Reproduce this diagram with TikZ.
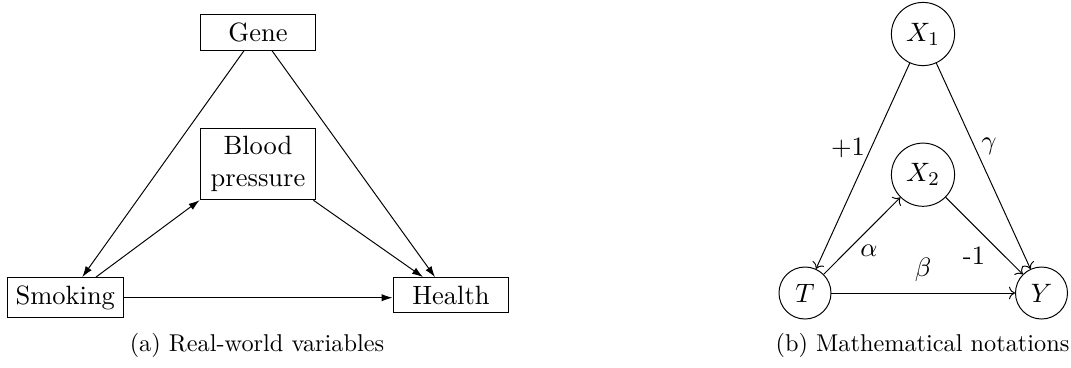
\documentclass[tikz,border=0pt]{standalone}
\usetikzlibrary{arrows.meta,calc}
\begin{document}
\begin{tikzpicture}[x=0.4115pt,y=-0.4115pt,
  boxnode/.style={draw,rectangle,minimum width=47.7pt,align=center,font=\fontsize{10.9}{13.1}\selectfont},
  bignode/.style={draw,circle,minimum size=26pt,inner sep=1pt,font=\fontsize{10.9}{13.1}\selectfont},
  smallnode/.style={draw,circle,minimum size=21.4pt,inner sep=1pt,font=\fontsize{10.9}{13.1}\selectfont},
  lbl/.style={inner sep=0pt,font=\fontsize{10.9}{13.1}\selectfont},
  captext/.style={inner sep=0pt,font=\fontsize{10}{12}\selectfont},
  realarrow/.style={-{Latex[length=4.5pt,width=3pt]}},
  matharrow/.style={->}]
\useasboundingbox (0,0) rectangle (1071,367);
% (a) real-world variables
\node[boxnode] (gene) at (258,32.5) {Gene};
\node[boxnode] (bp) at (258,164) {Blood\\pressure};
\node[boxnode] (smoking) at (65.3,297.7) {Smoking};
\node[boxnode] (health) at (451,295) {Health};
\draw[realarrow] ($(gene.south)+(-14,0)$) -- ($(smoking.north)+(17,0)$);
\draw[realarrow] ($(gene.south)+(14,0)$) -- ($(health.north)+(-16,0)$);
\draw[realarrow] ($(smoking.north)+(30.7,0)$) -- (bp.south west);
\draw[realarrow] ($(bp.south east)+(-3,0)$) -- ($(health.north)+(-28,0)$);
\draw[realarrow] (smoking.east) -- (smoking.east -| health.west);
\node[captext] (capa) at (257,345.5) {(a) Real-world variables};
% (b) mathematical notations
\node[bignode] (x1) at (923,34) {$X_1$};
\node[bignode] (x2) at (923,174.7) {$X_2$};
\node[smallnode] (t) at (805,293) {$T$};
\node[smallnode] (y) at (1041.5,293) {$Y$};
\draw[matharrow] (x1) -- (t);
\draw[matharrow] (x1) -- (y);
\draw[matharrow] (t) -- (x2);
\draw[matharrow] (x2) -- (y);
\draw[matharrow] (t) -- (y);
\node[lbl] (lp1) at (848,147.5) {+1};
\node[lbl] (lg) at (989,146) {$\gamma$};
\node[lbl] (la) at (869,251) {$\alpha$};
\node[lbl] (lm1) at (974,256) {-1};
\node[lbl] (lb) at (923,270) {$\beta$};
\node[captext] (capb) at (922.5,345.5) {(b) Mathematical notations};
\end{tikzpicture}
\end{document}
